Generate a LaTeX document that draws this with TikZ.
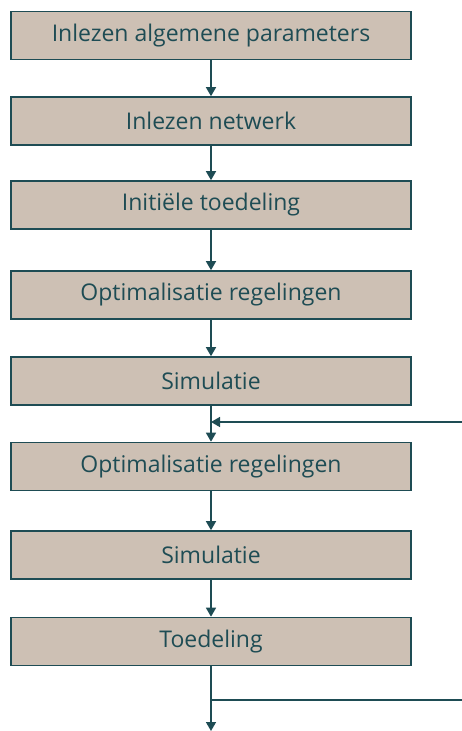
\documentclass[tikz,border=0pt]{standalone}
\usepackage{fontspec}
\setmainfont{Open Sans}
\usetikzlibrary{arrows.meta}
\definecolor{boxfill}{HTML}{CDC0B4}
\definecolor{teal}{HTML}{1E4C54}
\begin{document}
\begin{tikzpicture}[x=1pt,y=-1pt,
  stepbox/.style={draw=teal, fill=boxfill, line width=1.6pt, minimum width=400pt, minimum height=48pt, inner sep=0pt, text=teal, font=\fontsize{23}{26}\selectfont},
  conn/.style={draw=teal, line width=1.5pt, -{Triangle[width=10pt,length=9pt]}},
  plain/.style={draw=teal, line width=1.5pt}]
\useasboundingbox (0,0) rectangle (462,731);
\node[stepbox] (b1) at (211,35.5) {Inlezen algemene parameters};
\node[stepbox] (b2) at (211,121) {Inlezen netwerk};
\node[stepbox] (b3) at (211,205) {Initiële toedeling};
\node[stepbox] (b4) at (211,295) {Optimalisatie regelingen};
\node[stepbox] (b5) at (211,381) {Simulatie};
\node[stepbox] (b6) at (211,466.5) {Optimalisatie regelingen};
\node[stepbox] (b7) at (211,555) {Simulatie};
\node[stepbox] (b8) at (211,641.5) {Toedeling};
\coordinate (fb) at (462,422);
\coordinate (bj) at (211,700);
\coordinate (br) at (462,700);
\coordinate (out) at (211,731);
\draw[conn] (b1) -- (b2);
\draw[conn] (b2) -- (b3);
\draw[conn] (b3) -- (b4);
\draw[conn] (b4) -- (b5);
\draw[conn] (b5) -- (b6);
\draw[conn] (fb) -- (b5.south |- fb);
\draw[conn] (b6) -- (b7);
\draw[conn] (b7) -- (b8);
\draw[conn] (b8) -- (out);
\draw[plain] (bj) -- (br);
\end{tikzpicture}
\end{document}
